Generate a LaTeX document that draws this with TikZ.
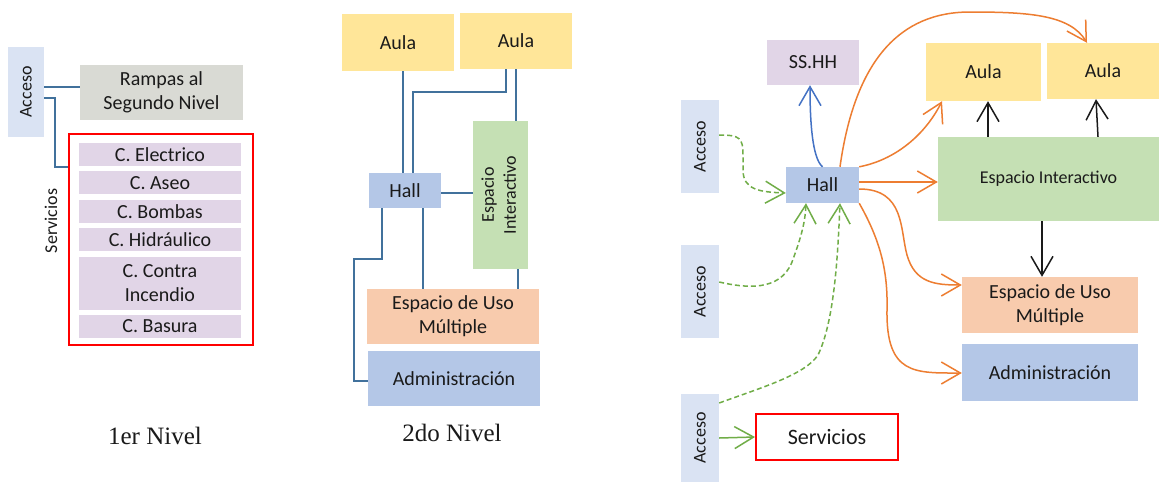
\documentclass[tikz,border=0pt]{standalone}
\usepackage{fontspec}
\setmainfont{Carlito}
\newfontfamily\capfont{Liberation Serif}
\usetikzlibrary{arrows.meta,positioning}
\definecolor{ink}{HTML}{1A1A1A}
\definecolor{accblue}{HTML}{DAE3F3}
\definecolor{hallblue}{HTML}{B4C7E7}
\definecolor{greyish}{HTML}{D9DAD4}
\definecolor{lila}{HTML}{E1D5E7}
\definecolor{aulay}{HTML}{FFE699}
\definecolor{intgreen}{HTML}{C5E0B4}
\definecolor{usoorange}{HTML}{F8CBAD}
\definecolor{steel}{HTML}{41719C}
\definecolor{flowor}{HTML}{ED7D31}
\definecolor{flowgr}{HTML}{70AD47}
\definecolor{flowbl}{HTML}{4472C4}
\definecolor{alarm}{HTML}{FF0000}
\tikzset{
  roombox/.style={inner sep=0pt,align=center,font=\fontsize{20}{24}\selectfont,text=ink},
  itembox/.style={roombox,fill=lila,minimum width=162pt,minimum height=23pt},
  accbox/.style={roombox,fill=accblue,font=\fontsize{18}{22}\selectfont},
  redbox/.style={roombox,draw=alarm,line width=2pt,fill=white},
  caption/.style={inner sep=0pt,font=\capfont\fontsize{25}{28}\selectfont,text=ink},
  link/.style={line width=2.5pt,draw=steel},
  barb/.style={line width=1.5pt,-{Straight Barb[length=19pt,width=22pt]}},
  flow/.style={barb,draw=flowor},
  walk/.style={barb,draw=flowgr,dash pattern=on 5pt off 3pt},
  walksolid/.style={barb,draw=flowgr},
  lift/.style={barb,draw=ink},
  ssflow/.style={barb,draw=flowbl}
}
\begin{document}
\begin{tikzpicture}[x=1pt,y=-1pt]
  \useasboundingbox[fill=white] (0,0) rectangle (1159,482);

  % 1er nivel
  \node[accbox,minimum width=36pt,minimum height=90pt] (acc1) at (26,92) {\rotatebox{90}{Acceso}};
  \node[roombox,fill=greyish,minimum width=163pt,minimum height=55pt] (rampas) at (161.5,92.5) {Rampas al\\Segundo Nivel};
  \node[redbox,minimum width=184pt,minimum height=211pt] (serv1) at (161,239.5) {};
  \node[itembox] (elec) at (160,154.5) {C. Electrico};
  \node[itembox,below=5pt of elec] (aseo) {C. Aseo};
  \node[itembox,below=5pt of aseo] (bombas) {C. Bombas};
  \node[itembox,below=5pt of bombas] (hidra) {C. Hidráulico};
  \node[itembox,below=5pt of hidra,minimum height=53pt] (contra) {C. Contra\\Incendio};
  \node[itembox,below=5pt of contra] (basura) {C. Basura};
  \node[roombox,font=\fontsize{18}{22}\selectfont] (servlbl) at (51,221) {\rotatebox{90}{Servicios}};
  \draw[link] (acc1.east |- 0,87) -- (rampas.west |- 0,87);
  \draw[link] (acc1.east |- 0,98) -- ++(11,0) |- (serv1.west |- 0,167);
  \node[caption] (nivel1) at (155,436) {1er Nivel};

  % 2do nivel
  \node[roombox,fill=aulay,minimum width=112pt,minimum height=57pt] (aula1) at (398,42.5) {Aula};
  \node[roombox,fill=aulay,minimum width=112pt,minimum height=56pt] (aula2) at (516,41) {Aula};
  \node[roombox,fill=intgreen,minimum width=55pt,minimum height=148pt,font=\fontsize{18}{22}\selectfont] (inter2) at (500.5,195)
    {\rotatebox{90}{\begin{tabular}{@{}c@{}}Espacio\\Interactivo\end{tabular}}};
  \node[roombox,fill=hallblue,minimum width=72pt,minimum height=35pt] (hall2) at (405,190.5) {Hall};
  \node[roombox,fill=usoorange,minimum width=172pt,minimum height=55pt] (uso2) at (453,316.5) {Espacio de Uso\\Múltiple};
  \node[roombox,fill=hallblue,minimum width=172pt,minimum height=55pt] (admin2) at (454,378.5) {Administración};
  \draw[link] (aula1.south -| 403,0) -- (hall2.north -| 403,0);
  \draw[link] (aula2.south -| 506,0) -- ++(0,23) -| (hall2.north -| 413,0);
  \draw[link] (aula2.south -| 516,0) -- (inter2.north -| 516,0);
  \draw[link] (hall2.east |- 0,193) -- (inter2.west |- 0,193);
  \draw[link] (hall2.south -| 382,0) -- ++(0,51) -- ++(-28,0) |- (admin2.west |- 0,381);
  \draw[link] (hall2.south -| 423,0) -- (uso2.north -| 423,0);
  \draw[link] (inter2.south -| 518,0) -- (uso2.north -| 518,0);
  \node[caption] (nivel2) at (452,433) {2do Nivel};

  % flujos
  \node[roombox,fill=lila,minimum width=92pt,minimum height=45pt] (sshh) at (813,62.5) {SS.HH};
  \node[roombox,fill=aulay,minimum width=115pt,minimum height=58pt] (aula3) at (983.5,72) {Aula};
  \node[roombox,fill=aulay,minimum width=112pt,minimum height=56pt] (aula4) at (1103,71) {Aula};
  \node[roombox,fill=intgreen,minimum width=221pt,minimum height=84pt,font=\fontsize{18}{22}\selectfont] (inter3) at (1048.5,179) {Espacio Interactivo};
  \node[roombox,fill=hallblue,minimum width=73pt,minimum height=36pt] (hall3) at (822.5,185) {Hall};
  \node[roombox,fill=usoorange,minimum width=176pt,minimum height=56pt] (uso3) at (1050,305) {Espacio de Uso\\Múltiple};
  \node[roombox,fill=hallblue,minimum width=176pt,minimum height=57pt] (admin3) at (1050,372.5) {Administración};
  \node[accbox,minimum width=38pt,minimum height=93pt] (acc2) at (700,146.5) {\rotatebox{90}{Acceso}};
  \node[accbox,minimum width=38pt,minimum height=93pt] (acc3) at (700,291.5) {\rotatebox{90}{Acceso}};
  \node[accbox,minimum width=38pt,minimum height=88pt] (acc4) at (700,438) {\rotatebox{90}{Acceso}};
  \node[redbox,minimum width=142pt,minimum height=46pt,font=\fontsize{22}{26}\selectfont] (serv3) at (827,437) {Servicios};

  \draw[ssflow] (hall3.north) .. controls (812,158) and (810,120) .. (sshh.south -| 810,0);
  \draw[flow] (hall3.north -| 840,0) .. controls (855,60) and (900,12) .. (970,12)
    .. controls (1030,12) and (1070,15) .. (aula4.north -| 1087,0);
  \draw[flow] (hall3.north east) .. controls (895,160) and (925,135) .. (aula3.south -| 942,0);
  \draw[flow] (hall3.east |- 0,182) -- (inter3.west |- 0,182);
  \draw[flow] (hall3.east |- 0,189) .. controls (905,189) and (900,230) .. (907,255)
    .. controls (915,283) and (935,285) .. (uso3.west |- 0,285);
  \draw[flow] (hall3.south east) .. controls (880,240) and (888,270) .. (887,310)
    .. controls (886,375) and (915,373) .. (admin3.west |- 0,373);
  \draw[lift] (inter3.north -| 988,0) -- (aula3.south -| 988,0);
  \draw[lift] (inter3.north -| 1098,0) -- (aula4.south -| 1096,0);
  \draw[lift] (inter3.south -| 1042,0) -- (uso3.north -| 1042,0);

  \draw[walk] (acc2.east |- 0,135) .. controls (740,135) and (743,138) .. (743,155) -- (743,170)
    .. controls (743,190) and (760,192) .. (hall3.west |- 0,193);
  \draw[walk] (acc3.east |- 0,282) .. controls (745,288) and (780,292) .. (792,262)
    .. controls (800,240) and (805,225) .. (hall3.south -| 806,0);
  \draw[walk] (acc4.east |- 0,403) .. controls (760,388) and (805,375) .. (818,355)
    .. controls (835,320) and (838,250) .. (hall3.south -| 840,0);
  \draw[walksolid] (acc4.east |- 0,438) -- (serv3.west);
\end{tikzpicture}
\end{document}
